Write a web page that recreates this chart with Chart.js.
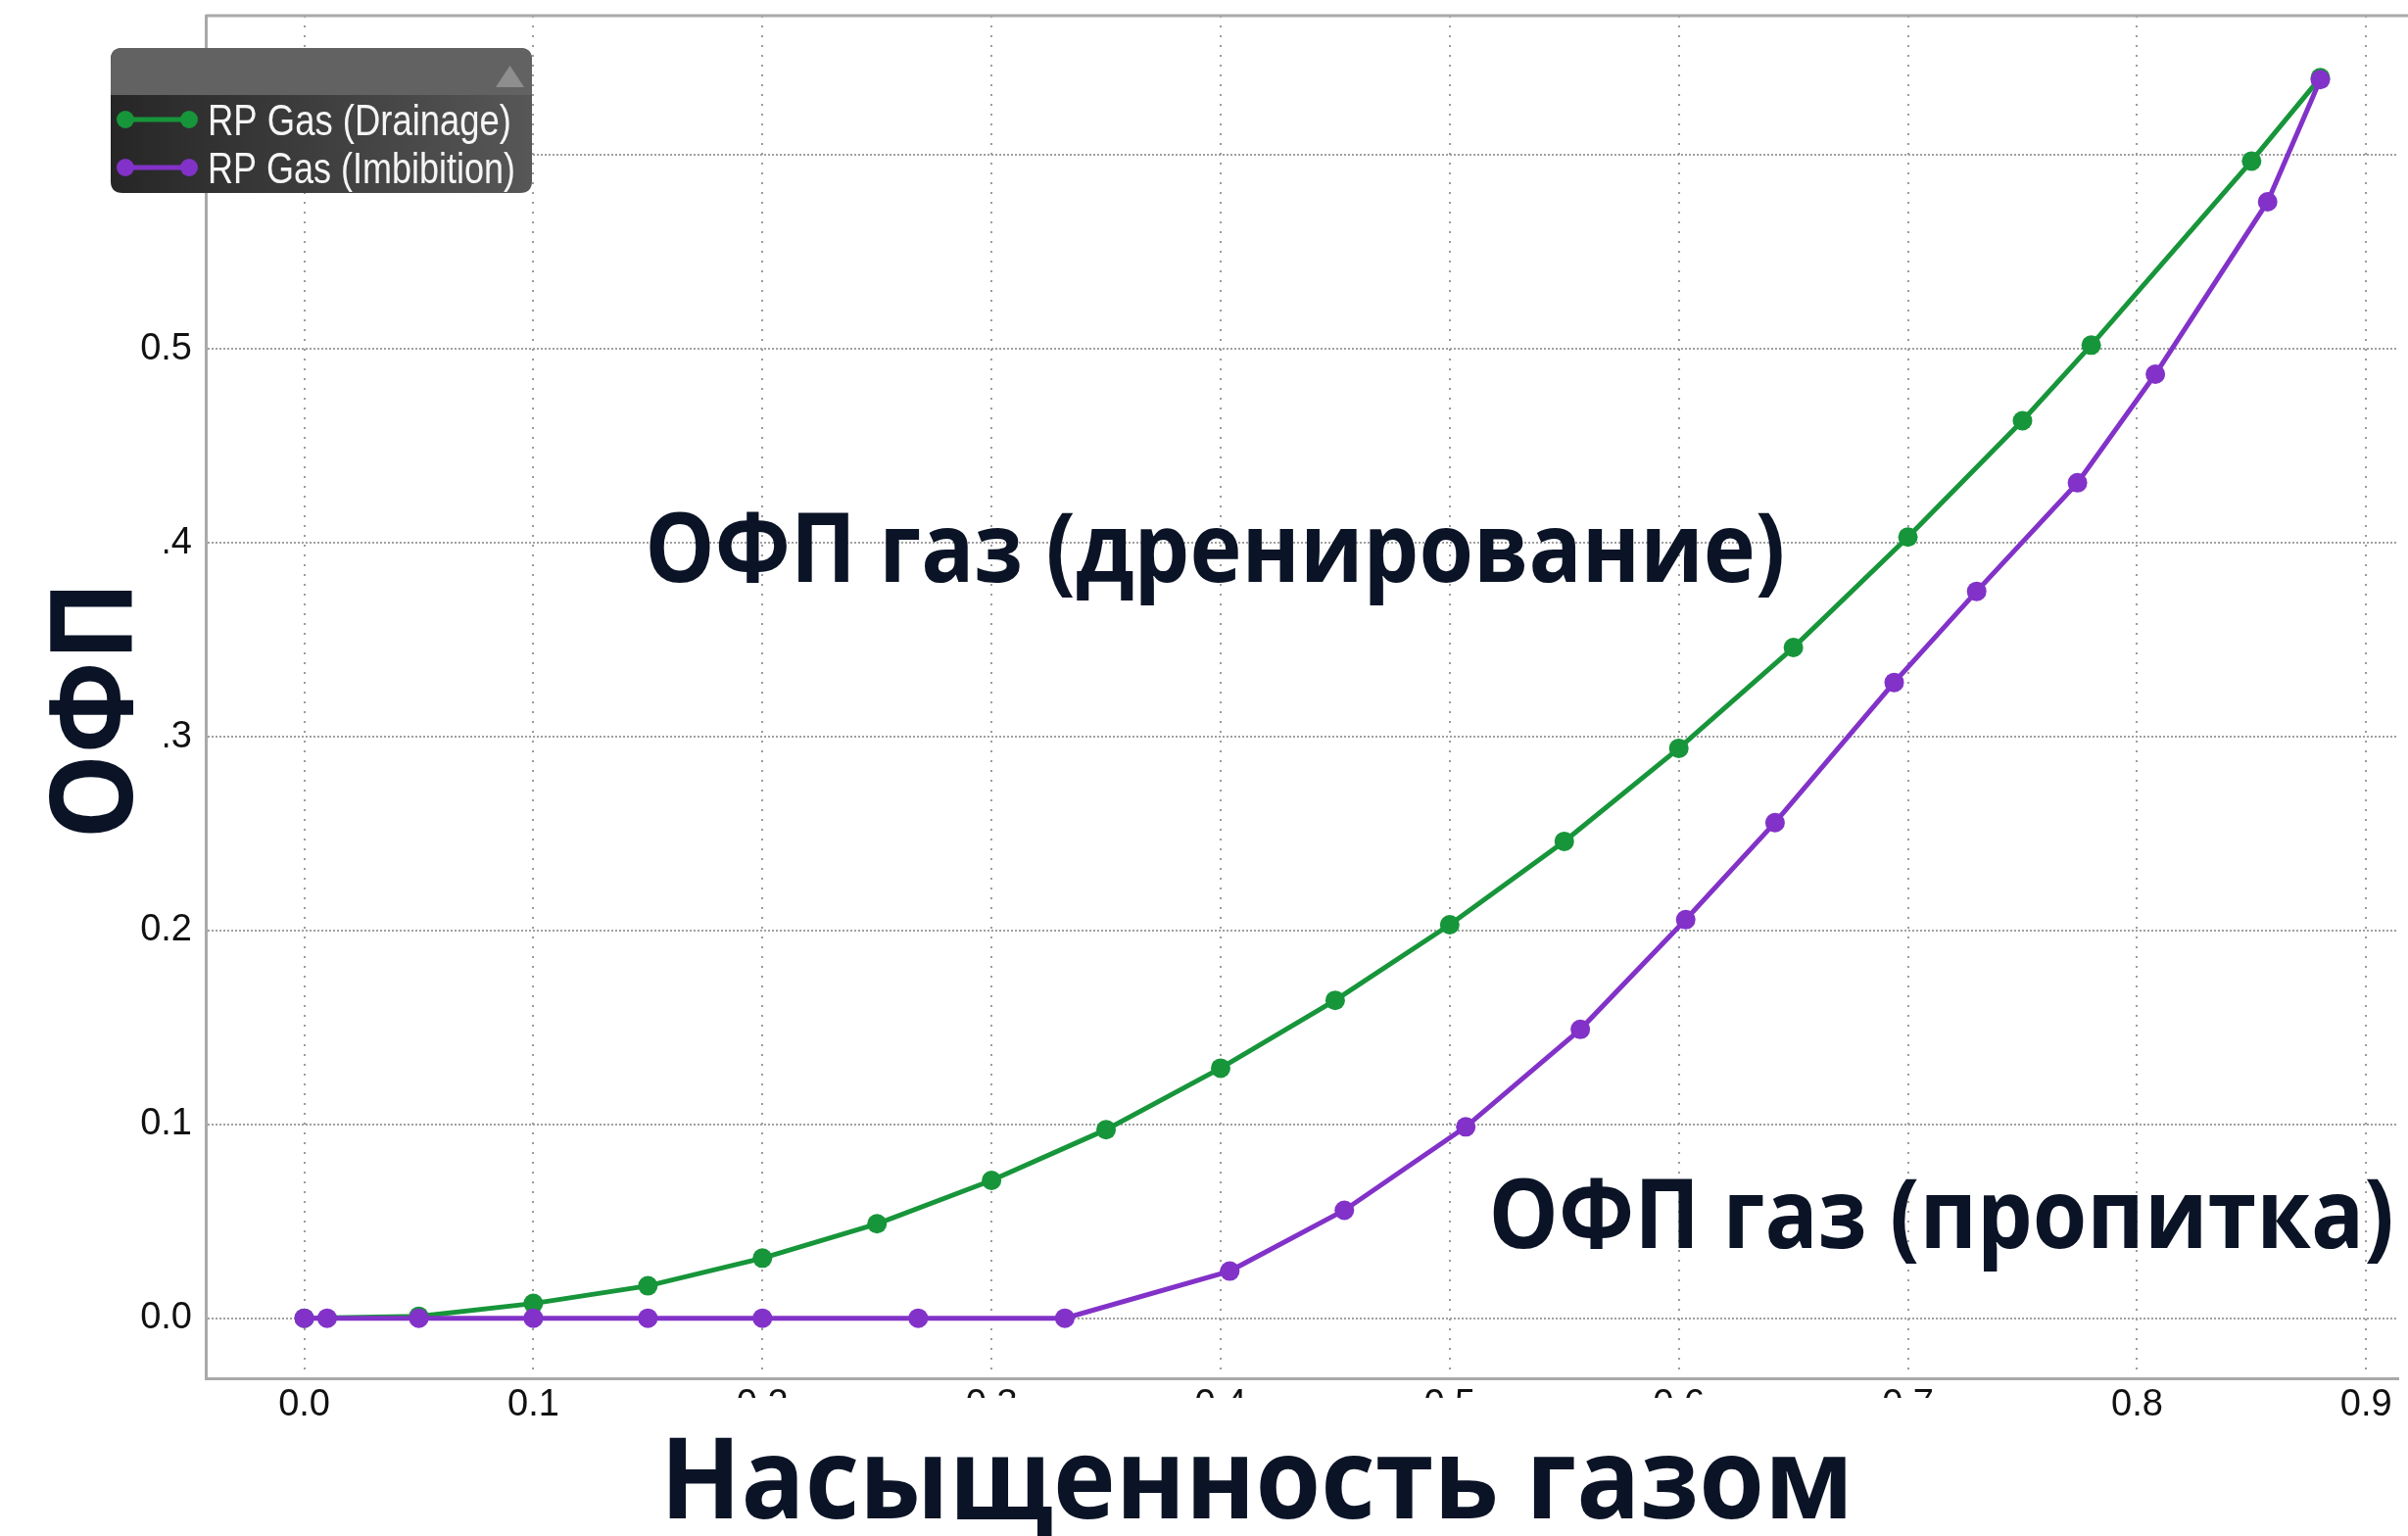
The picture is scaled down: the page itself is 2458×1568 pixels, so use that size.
<!DOCTYPE html>
<html lang="ru">
<head>
<meta charset="utf-8">
<title>ОФП газ</title>
<script src="https://cdn.jsdelivr.net/npm/chart.js@4.4.1/dist/chart.umd.min.js"></script>
<style>
  html, body { margin: 0; padding: 0; background: #fff; }
  canvas { display: block; }
</style>
</head>
<body>
<canvas id="chart" width="2458" height="1568"></canvas>
<script>
/* ── Data ── */
const drainageSg  = [0, 0.05, 0.10, 0.15, 0.20, 0.25, 0.30, 0.35, 0.40, 0.45, 0.50, 0.55, 0.60, 0.65, 0.70, 0.75, 0.78, 0.85, 0.88];
const drainageKrg = [0, 0.001, 0.0076, 0.0167, 0.031, 0.0487, 0.0711, 0.0973, 0.129, 0.164, 0.203, 0.246, 0.294, 0.346, 0.403, 0.463, 0.502, 0.597, 0.640];

const imbibitionSg  = [0, 0.01, 0.05, 0.10, 0.15, 0.20, 0.268, 0.332, 0.404, 0.454, 0.507, 0.557, 0.603, 0.642, 0.694, 0.730, 0.774, 0.808, 0.857, 0.880];
const imbibitionKrg = [0, 0, 0, 0, 0, 0, 0, 0, 0.0243, 0.0557, 0.0987, 0.149, 0.2056, 0.2557, 0.328, 0.375, 0.431, 0.487, 0.576, 0.639];

const seriesLabels = ['RP Gas (Drainage)', 'RP Gas (Imbibition)'];
const xTicks = [0.0, 0.1, 0.2, 0.3, 0.4, 0.5, 0.6, 0.7, 0.8, 0.9];
const yTicks = [0.0, 0.1, 0.2, 0.3, 0.4, 0.5, 0.6];

const titleX = 'Насыщенность газом';
const titleY = 'ОФП';
const noteDrainage = 'ОФП газ (дренирование)';
const noteImbibition = 'ОФП газ (пропитка)';

const GREEN = '#17953a';
const PURPLE = '#8232c8';
const INK = '#0b1426';
const FRAME = '#a9a9a9';

const toPoints = (xs, ys) => xs.map((v, i) => ({ x: v, y: ys[i] }));

/* ── helpers ── */
function fitText(ctx, text, x, y, size, width, align, family) {
    ctx.save();
    ctx.font = size + 'px ' + family;
    const w = ctx.measureText(text).width;
    ctx.translate(x, y);
    ctx.scale(width / w, 1);
    ctx.textAlign = 'left';
    ctx.textBaseline = 'alphabetic';
    ctx.fillText(text, align === 'center' ? -w / 2 : 0, 0);
    ctx.restore();
}

function roundRect(ctx, x, y, w, h, r) {
    ctx.beginPath();
    ctx.moveTo(x + r, y);
    ctx.lineTo(x + w - r, y);
    ctx.quadraticCurveTo(x + w, y, x + w, y + r);
    ctx.lineTo(x + w, y + h - r);
    ctx.quadraticCurveTo(x + w, y + h, x + w - r, y + h);
    ctx.lineTo(x + r, y + h);
    ctx.quadraticCurveTo(x, y + h, x, y + h - r);
    ctx.lineTo(x, y + r);
    ctx.quadraticCurveTo(x, y, x + r, y);
    ctx.closePath();
}

/* ── legend panel (dark box, top-left) ── */
function drawLegend(chart) {
    const ctx = chart.ctx;
    const bx = 113, by = 49, bw = 430, bh = 148, head = 48;
    ctx.save();
    roundRect(ctx, bx, by, bw, bh, 12);
    ctx.clip();
    const grad = ctx.createLinearGradient(bx, 0, bx + bw, 0);
    grad.addColorStop(0, '#262626');
    grad.addColorStop(1, '#575757');
    ctx.fillStyle = grad;
    ctx.fillRect(bx, by, bw, bh);
    ctx.fillStyle = '#626262';
    ctx.fillRect(bx, by, bw, head);
    ctx.restore();

    // collapse arrow
    ctx.save();
    ctx.fillStyle = '#8e8e8e';
    ctx.beginPath();
    ctx.moveTo(506, 89);
    ctx.lineTo(535, 89);
    ctx.lineTo(520.5, 67);
    ctx.closePath();
    ctx.fill();
    ctx.restore();

    chart.data.datasets.forEach((ds, i) => {
        const cy = 122 + i * 49;
        ctx.save();
        ctx.strokeStyle = ds.borderColor;
        ctx.fillStyle = ds.borderColor;
        ctx.lineWidth = 5;
        ctx.beginPath();
        ctx.moveTo(128, cy);
        ctx.lineTo(193, cy);
        ctx.stroke();
        [128, 193].forEach(px => {
            ctx.beginPath();
            ctx.arc(px, cy, 9, 0, Math.PI * 2);
            ctx.fill();
        });
        ctx.fillStyle = '#f5f5f5';
        fitText(ctx, ds.label, 212, cy + 16, 44, i === 0 ? 310 : 314, 'left', '"Liberation Sans", Arial, sans-serif');
        ctx.restore();
    });
}

/* ── overlay: frame top line, captions, axis titles ── */
const overlayPlugin = {
    id: 'overlay',
    beforeDatasetsDraw(chart) {
        const { ctx, chartArea } = chart;
        ctx.save();
        ctx.strokeStyle = FRAME;
        ctx.lineWidth = 3;
        ctx.beginPath();
        ctx.moveTo(chartArea.left, chartArea.top);
        ctx.lineTo(chart.width, chartArea.top);
        ctx.stroke();
        ctx.restore();
    },
    afterDraw(chart) {
        const ctx = chart.ctx;
        const { x, y } = chart.scales;
        const bold = '"Open Sans", "Noto Sans", sans-serif';

        ctx.save();
        ctx.fillStyle = INK;
        fitText(ctx, noteDrainage, x.getPixelForValue(0.1487), y.getPixelForValue(0.38), '700 98', 1164, 'left', bold);
        fitText(ctx, noteImbibition, x.getPixelForValue(0.517), y.getPixelForValue(0.036), '700 98', 924, 'left', bold);

        // x title on a white plate (it hides part of the tick labels)
        ctx.fillStyle = '#ffffff';
        ctx.fillRect(640, 1427, 1360, 141);
        ctx.fillStyle = INK;
        fitText(ctx, titleX, 1283, 1550, '700 115', 1218, 'center', bold);

        // y title, rotated, on a white plate
        ctx.fillStyle = '#ffffff';
        ctx.fillRect(0, 530, 168, 390);
        ctx.fillStyle = INK;
        ctx.translate(135, 725);
        ctx.rotate(-Math.PI / 2);
        fitText(ctx, titleY, 0, 0, '700 117', 264, 'center', bold);
        ctx.restore();

        drawLegend(chart);
    }
};

const tickFont = { family: '"Liberation Sans", Arial, sans-serif', size: 38 };

new Chart(document.getElementById('chart').getContext('2d'), {
    type: 'line',
    data: {
        datasets: [
            {
                label: seriesLabels[0],
                data: toPoints(drainageSg, drainageKrg),
                borderColor: GREEN,
                backgroundColor: GREEN,
                borderWidth: 5,
                pointRadius: 10,
                pointBorderWidth: 0,
                tension: 0,
                order: 1,
            },
            {
                label: seriesLabels[1],
                data: toPoints(imbibitionSg, imbibitionKrg),
                borderColor: PURPLE,
                backgroundColor: PURPLE,
                borderWidth: 5,
                pointRadius: 10,
                pointBorderWidth: 0,
                tension: 0,
                order: 0,
            }
        ]
    },
    options: {
        responsive: false,
        animation: false,
        devicePixelRatio: 1,
        layout: { padding: { top: 16, left: 0, right: 0, bottom: 0 } },
        plugins: {
            legend: { display: false },
            tooltip: { enabled: false },
        },
        scales: {
            x: {
                type: 'linear',
                min: -0.043,
                max: 0.914,
                afterBuildTicks: s => { s.ticks = xTicks.map(v => ({ value: v })); },
                afterFit: s => { s.height = 161; s.paddingLeft = 0; s.paddingRight = 0; },
                ticks: {
                    color: '#111',
                    font: tickFont,
                    padding: 5,
                    callback: v => v.toFixed(1),
                },
                grid: { color: '#9c9c9c', lineWidth: 2, drawTicks: false },
                border: { color: FRAME, width: 3, dash: [2, 8] },
            },
            y: {
                min: -0.031,
                max: 0.672,
                afterBuildTicks: s => { s.ticks = yTicks.map(v => ({ value: v })); },
                afterFit: s => { s.width = 210; s.paddingTop = 0; s.paddingBottom = 0; },
                ticks: {
                    color: '#111',
                    font: tickFont,
                    padding: 14,
                    callback: v => v.toFixed(1),
                },
                grid: { color: '#a0a0a0', lineWidth: 2, drawTicks: false },
                border: { color: FRAME, width: 3, dash: [2, 2] },
            }
        }
    },
    plugins: [overlayPlugin]
});
</script>
</body>
</html>
